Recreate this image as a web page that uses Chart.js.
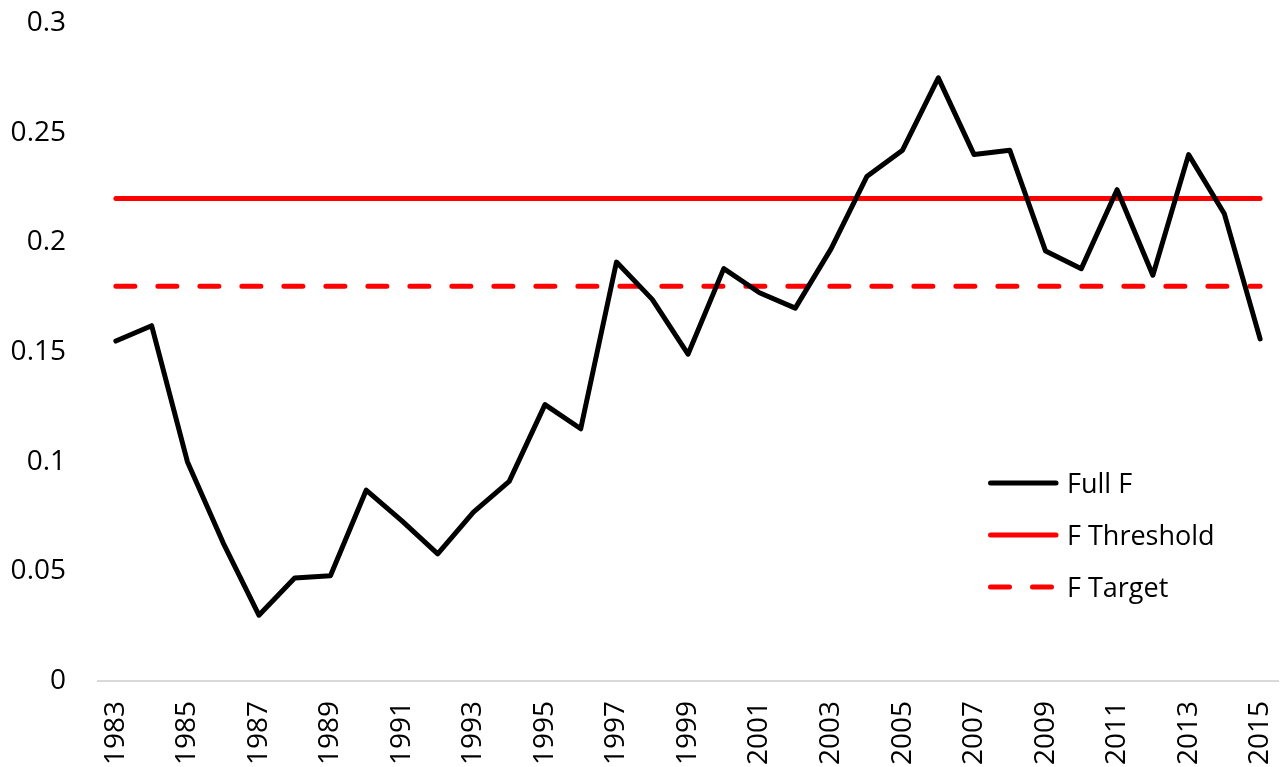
<!DOCTYPE html>
<html>
<head>
<meta charset="utf-8">
<script src="https://cdn.jsdelivr.net/npm/chart.js@4"></script>
<style>
  html, body { margin: 0; padding: 0; background: #fff; }
  #wrap { position: relative; width: 1287px; height: 767px; }
  #legend { position: absolute; left: 985px; top: 464px; font-family: "Open Sans", sans-serif; font-size: 27px; color: #000; }
  .item { position: absolute; left: 0; height: 40px; white-space: nowrap; }
  .item canvas { position: absolute; left: 0; top: 0; }
  .item span { position: absolute; left: 82px; top: 0px; line-height: 38px; }
</style>
</head>
<body>
<div id="wrap">
  <canvas id="c" width="1287" height="767"></canvas>
  <div id="legend"></div>
</div>
<script>
const years = [1983,1984,1985,1986,1987,1988,1989,1990,1991,1992,1993,1994,1995,1996,1997,1998,1999,2000,2001,2002,2003,2004,2005,2006,2007,2008,2009,2010,2011,2012,2013,2014,2015];
const fullF = [0.155,0.162,0.100,0.063,0.030,0.047,0.048,0.087,0.073,0.058,0.077,0.091,0.126,0.115,0.191,0.174,0.149,0.188,0.177,0.170,0.197,0.230,0.242,0.275,0.240,0.242,0.196,0.188,0.224,0.185,0.240,0.213,0.156];
const fThresholdValue = 0.22;
const fTargetValue = 0.18;
const fThreshold = years.map(() => fThresholdValue);
const fTarget = years.map(() => fTargetValue);
const yTicks = [0, 0.05, 0.1, 0.15, 0.2, 0.25, 0.3];
const yTickLabels = ['0', '0.05', '0.1', '0.15', '0.2', '0.25', '0.3'];

const FONT = { family: '"Open Sans", sans-serif', size: 28 };

const chart = new Chart(document.getElementById('c'), {
  type: 'line',
  data: {
    labels: years.map(String),
    datasets: [
      { label: 'Full F', data: fullF, borderColor: '#000000', borderWidth: 5, pointRadius: 0, tension: 0, borderJoinStyle: 'round', borderCapStyle: 'round', fill: false },
      { label: 'F Threshold', data: fThreshold, borderColor: '#ff0000', borderWidth: 5, pointRadius: 0, borderCapStyle: 'round', fill: false },
      { label: 'F Target', data: fTarget, borderColor: '#ff0000', borderWidth: 5, pointRadius: 0, borderDash: [19, 23], borderCapStyle: 'round', fill: false }
    ]
  },
  options: {
    responsive: false,
    animation: false,
    layout: { padding: { top: 23, right: 9, left: 0, bottom: 0 } },
    plugins: { legend: { display: false }, tooltip: { enabled: false } },
    scales: {
      x: {
        type: 'category',
        offset: true,
        grid: { display: false, drawTicks: false },
        border: { display: true, color: '#d9d9d9', width: 2 },
        ticks: {
          font: FONT, color: '#000', padding: 20,
          minRotation: 90, maxRotation: 90, autoSkip: false,
          callback: function(v, i) { return i % 2 === 0 ? years[i] : ''; }
        },
        afterFit: function(s) { s.height = 86; s.paddingLeft = 0; s.paddingRight = 0; }
      },
      y: {
        min: 0, max: 0.3,
        grid: { display: false, drawTicks: false },
        border: { display: false },
        afterBuildTicks: function(s) { s.ticks = yTicks.map(v => ({ value: v })); },
        ticks: {
          font: FONT, color: '#000', padding: 32,
          callback: function(v) { const i = yTicks.indexOf(v); return i >= 0 ? yTickLabels[i] : ''; }
        },
        afterFit: function(s) { s.width = 98; s.paddingTop = 0; s.paddingBottom = 0; }
      }
    }
  }
});

// HTML legend
const legendItems = [
  { label: 'Full F', color: '#000000', dash: [] },
  { label: 'F Threshold', color: '#ff0000', dash: [] },
  { label: 'F Target', color: '#ff0000', dash: [19, 23] }
];
const leg = document.getElementById('legend');
legendItems.forEach((it, i) => {
  const d = document.createElement('div');
  d.className = 'item';
  d.style.top = (i * 52) + 'px';
  const cv = document.createElement('canvas');
  cv.width = 80; cv.height = 40;
  const ctx = cv.getContext('2d');
  ctx.strokeStyle = it.color; ctx.lineWidth = 5; ctx.lineCap = 'round';
  ctx.setLineDash(it.dash);
  ctx.beginPath(); ctx.moveTo(5.5, 19); ctx.lineTo(71, 19); ctx.stroke();
  const sp = document.createElement('span');
  sp.textContent = it.label;
  d.appendChild(cv); d.appendChild(sp);
  leg.appendChild(d);
});
</script>
</body>
</html>
